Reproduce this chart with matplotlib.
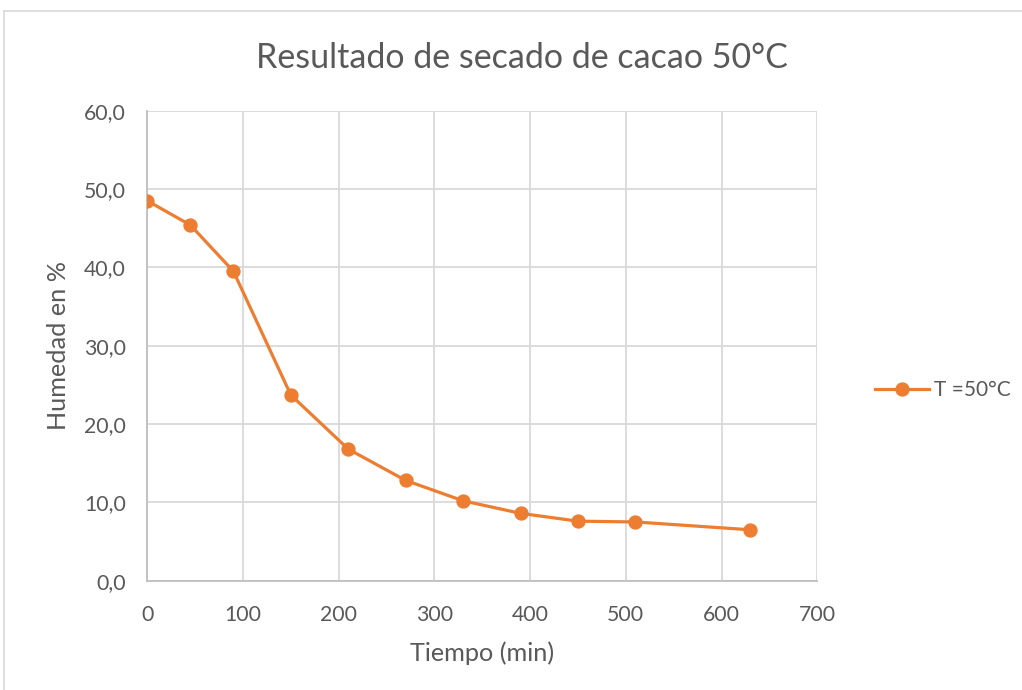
import numpy as np
import matplotlib.pyplot as plt
from matplotlib.lines import Line2D

# data
tiempo = [0, 45, 90, 150, 210, 270, 330, 390, 450, 510, 630]
humedad = [48.5, 45.4, 39.5, 23.7, 16.8, 12.8, 10.2, 8.6, 7.6, 7.5, 6.5]

x_ticks = [0, 100, 200, 300, 400, 500, 600, 700]
y_ticks = [0, 10, 20, 30, 40, 50, 60]

title = "Resultado de secado de cacao 50°C"
x_label = "Tiempo (min)"
y_label = "Humedad en %"
serie_label = "T =50°C"

ORANGE = "#ED7D31"
GREY_TXT = "#595959"
GRID = "#D9D9D9"
W, H = 1022, 690

plt.rcParams['font.family'] = ['Lato', 'DejaVu Sans']

fig = plt.figure(figsize=(W / 100, H / 100), dpi=100)
ax = fig.add_axes([147.3 / W, 1 - 580.7 / H, (817.2 - 147.3) / W, (580.7 - 110.7) / H])

ax.plot(tiempo, humedad, color=ORANGE, lw=2.3, marker='o', ms=9.3,
        markeredgecolor=ORANGE, solid_capstyle='round', zorder=3)

ax.set_xlim(0, 700)
ax.set_ylim(0, 60)
ax.set_xticks(x_ticks)
ax.set_yticks(y_ticks)
ax.set_yticklabels([f"{v:.1f}".replace('.', ',') for v in y_ticks])
ax.grid(True, color=GRID, lw=1.3)
ax.set_axisbelow(True)
ax.tick_params(length=0, labelsize=15.3, labelcolor=GREY_TXT)
ax.tick_params(axis='x', pad=17.5)
ax.tick_params(axis='y', pad=15.5)

for s in ['top', 'right']:
    ax.spines[s].set_visible(False)
for s in ['left', 'bottom']:
    ax.spines[s].set_color('#BFBFBF')
    ax.spines[s].set_linewidth(1.3)

ax.set_xlabel(x_label, fontsize=18.2, color=GREY_TXT, labelpad=12)
ax.set_ylabel(y_label, fontsize=18.2, color=GREY_TXT, labelpad=10)
fig.text(522 / W, 1 - 58 / H, title, fontsize=24.5, color=GREY_TXT,
         ha='center', va='center')

handle = Line2D([], [], color=ORANGE, lw=2.3, marker='o', ms=9.3)
fig.legend([handle], [serie_label], loc='center left',
           bbox_to_anchor=(856 / W, 1 - 390 / H), frameon=False,
           fontsize=15, labelcolor=GREY_TXT, handlelength=2.6, handletextpad=0.25)

# chart frame
fig.add_artist(Line2D([4 / W, 1], [1 - 11 / H, 1 - 11 / H], color=GRID, lw=1.2))
fig.add_artist(Line2D([4 / W, 4 / W], [0, 1 - 11 / H], color=GRID, lw=1.2))

fig.savefig("out.png", dpi=100, facecolor='white')
